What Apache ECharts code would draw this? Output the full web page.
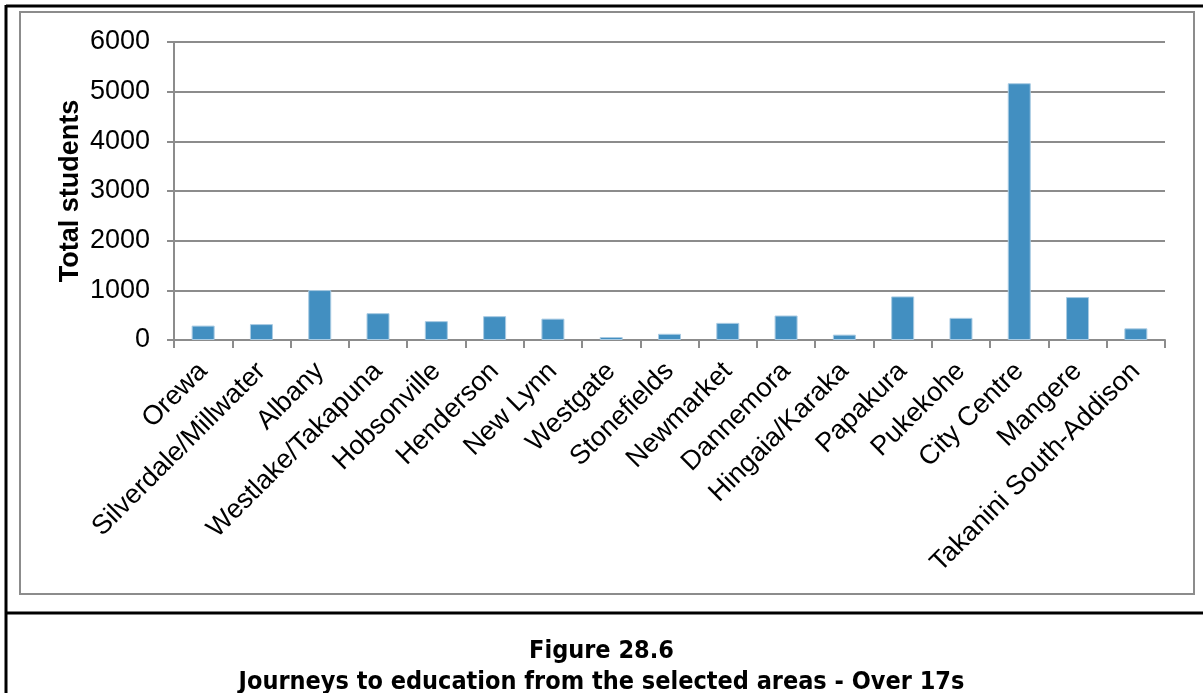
<!DOCTYPE html>
<html>
<head>
<meta charset="utf-8">
<script src="https://cdn.jsdelivr.net/npm/echarts@6/dist/echarts.min.js"></script>
<style>
  html, body { margin: 0; padding: 0; background: #fff; }
  #chart { width: 1203px; height: 693px; }
</style>
</head>
<body>
<div id="chart"></div>
<script>
const areas = [
  'Orewa', 'Silverdale/Millwater', 'Albany', 'Westlake/Takapuna', 'Hobsonville',
  'Henderson', 'New Lynn', 'Westgate', 'Stonefields', 'Newmarket', 'Dannemora',
  'Hingaia/Karaka', 'Papakura', 'Pukekohe', 'City Centre', 'Mangere',
  'Takanini South-Addison'
]
const students = [
  290, 320, 1005, 540, 380, 480, 430, 60, 125, 345, 493,
  108, 878, 446, 5170, 864, 235
]
const yTicks = [0, 1000, 2000, 3000, 4000, 5000, 6000]

const chart = echarts.init(document.getElementById('chart'))

const font = 'Liberation Sans, Arial, sans-serif'

const option = {
  animation: false,
  grid: { left: 174, right: 38, top: 42, bottom: 353 },
  xAxis: {
    type: 'category',
    data: areas,
    axisLine: { lineStyle: { color: '#8c8c8c', width: 2 } },
    axisTick: { show: true, length: 8, lineStyle: { color: '#8c8c8c', width: 2 } },
    axisLabel: {
      rotate: 45,
      interval: 0,
      margin: 27,
      color: '#000',
      fontFamily: font,
      fontSize: 27
    }
  },
  yAxis: {
    type: 'value',
    min: yTicks[0],
    max: yTicks[yTicks.length - 1],
    interval: 1000,
    name: 'Total students',
    nameLocation: 'middle',
    nameGap: 90,
    nameMoveOverlap: false,
    nameTextStyle: {
      color: '#000',
      fontFamily: font,
      fontSize: 27,
      fontWeight: 'bold'
    },
    axisLine: { show: true, lineStyle: { color: '#8c8c8c', width: 2 } },
    axisTick: { show: true, length: 7, lineStyle: { color: '#8c8c8c', width: 2 } },
    axisLabel: {
      margin: 24,
      color: '#000',
      fontFamily: font,
      fontSize: 27,
      formatter: v => String(v)
    },
    splitLine: { lineStyle: { color: '#8c8c8c', width: 2 } }
  },
  series: [
    {
      type: 'bar',
      data: students,
      barWidth: 23,
      itemStyle: { color: '#428fc1', borderColor: '#a9cbe3', borderWidth: 1 }
    }
  ],
  graphic: [
    // outer black frame
    { type: 'line', shape: { x1: 6, y1: 6, x2: 1203, y2: 6 }, style: { stroke: '#000', lineWidth: 3 } },
    { type: 'line', shape: { x1: 6, y1: 5, x2: 6, y2: 693 }, style: { stroke: '#000', lineWidth: 3 } },
    { type: 'line', shape: { x1: 6, y1: 613, x2: 1203, y2: 613 }, style: { stroke: '#000', lineWidth: 3 } },
    // inner grey chart frame
    { type: 'rect', shape: { x: 20, y: 12, width: 1174, height: 582 }, style: { fill: 'none', stroke: '#8c8c8c', lineWidth: 2 } },
    {
      type: 'text', left: 'center', top: 639,
      style: { text: 'Figure 28.6', fill: '#000', font: 'bold 25px "DejaVu Sans Condensed", "DejaVu Sans", sans-serif' }
    },
    {
      type: 'text', left: 'center', top: 670,
      style: { text: 'Journeys to education from the selected areas - Over 17s', fill: '#000', font: 'bold 25px "DejaVu Sans Condensed", "DejaVu Sans", sans-serif' }
    }
  ]
}

chart.setOption(option)
window.addEventListener('resize', () => chart.resize())
</script>
</body>
</html>
